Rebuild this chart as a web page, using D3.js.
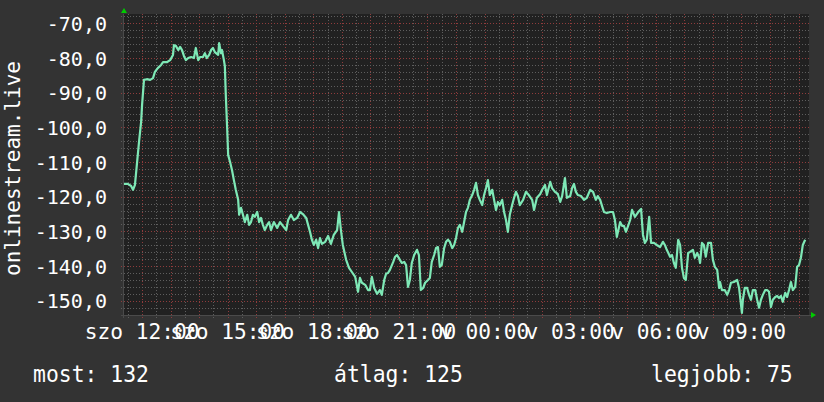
<!DOCTYPE html>
<html>
<head>
<meta charset="utf-8">
<script src="https://cdn.jsdelivr.net/npm/d3@7"></script>
<style>
  html, body { margin: 0; padding: 0; background: #333333; }
  svg { display: block; }
  text { font-family: "DejaVu Sans Mono", monospace; fill: #ffffff; }
</style>
</head>
<body>
<div id="graph"></div>
<script>
const width = 824;
const height = 402;

// graph window: szo 11:22 -> v 11:22
const startTime = new Date(2024, 2, 9, 11, 22);
const endTime = new Date(2024, 2, 10, 11, 22);

// minutes since startTime
const minutes = [
  0, 8, 15, 19, 23, 27, 32, 36, 38, 42, 48, 55, 61, 65, 71, 78, 82, 90, 97, 103,
  105, 109, 114, 118, 122, 126, 130, 135, 141, 147, 151, 156, 160, 166, 170, 174, 179, 183, 187, 191,
  198, 200, 204, 206, 210, 212, 214, 217, 219, 223, 227, 231, 235, 240, 242, 246, 250, 254, 259, 263,
  267, 271, 275, 280, 284, 288, 292, 296, 301, 305, 309, 315, 322, 328, 334, 341, 345, 351, 357, 364,
  370, 376, 383, 387, 391, 395, 399, 404, 408, 412, 416, 423, 429, 435, 441, 448, 452, 456, 460, 467,
  473, 479, 486, 492, 496, 500, 507, 513, 517, 521, 526, 532, 538, 542, 547, 551, 555, 559, 566, 570,
  574, 580, 584, 589, 593, 597, 601, 605, 610, 616, 620, 624, 629, 633, 639, 643, 647, 652, 656, 660,
  664, 668, 673, 677, 681, 685, 690, 694, 698, 702, 706, 711, 715, 719, 723, 727, 732, 736, 740, 744,
  748, 753, 757, 761, 765, 769, 774, 778, 782, 786, 790, 795, 799, 803, 807, 811, 816, 820, 824, 828,
  832, 839, 845, 851, 858, 862, 868, 875, 879, 885, 889, 896, 900, 906, 912, 917, 921, 927, 931, 938,
  942, 946, 950, 954, 961, 967, 973, 980, 986, 992, 996, 1001, 1005, 1009, 1015, 1022, 1028, 1032, 1036, 1043,
  1047, 1051, 1055, 1059, 1064, 1068, 1074, 1081, 1087, 1091, 1095, 1099, 1104, 1108, 1114, 1120, 1127, 1133, 1137, 1141,
  1148, 1152, 1156, 1160, 1165, 1169, 1173, 1177, 1181, 1186, 1190, 1196, 1200, 1205, 1209, 1211, 1215, 1219, 1223, 1228,
  1234, 1238, 1242, 1247, 1251, 1253, 1257, 1263, 1268, 1272, 1276, 1282, 1289, 1293, 1299, 1301, 1305, 1310, 1314, 1318,
  1322, 1327, 1331, 1335, 1339, 1343, 1348, 1352, 1356, 1360, 1364, 1369, 1373, 1377, 1381, 1385, 1390, 1394, 1398, 1402,
  1406, 1411, 1415, 1419, 1423, 1427, 1432
];

const values = [
  -116.3, -116.3, -116.9, -118.0, -116.6, -110.8, -103.6, -98.4, -93.5, -86.3, -86.1, -86.3, -85.8, -84.0, -82.9, -82.0, -81.2, -81.2, -80.6, -79.1,
  -76.3, -76.5, -77.7, -76.8, -77.7, -79.4, -80.6, -80.0, -79.7, -80.0, -77.1, -80.6, -79.7, -79.7, -78.6, -80.0, -79.1, -77.7, -77.1, -78.3,
  -79.1, -75.7, -78.6, -77.7, -80.6, -82.3, -90.7, -100.7, -108.0, -110.0, -112.3, -115.2, -118.0, -120.9, -125.2, -123.2, -125.2, -127.3, -125.2, -128.1,
  -127.3, -125.2, -125.8, -124.4, -127.3, -126.1, -128.1, -129.6, -128.1, -127.3, -129.6, -127.3, -129.0, -127.3, -128.4, -129.6, -126.7, -125.2, -126.7, -126.1,
  -124.4, -125.0, -126.1, -128.1, -130.1, -132.4, -133.9, -132.4, -134.8, -131.9, -133.6, -133.0, -131.3, -133.6, -131.0, -129.6, -124.4, -129.6, -133.9, -138.2,
  -140.5, -141.7, -143.1, -147.4, -143.4, -144.8, -145.4, -146.9, -146.9, -143.1, -146.3, -148.0, -146.9, -148.3, -144.0, -142.2, -142.0, -141.1, -138.8, -137.3,
  -136.8, -138.2, -139.1, -138.8, -139.7, -146.0, -144.0, -139.1, -136.8, -135.3, -136.8, -146.9, -146.3, -144.8, -144.0, -143.4, -138.8, -136.8, -134.8, -134.5,
  -140.2, -139.7, -134.8, -133.0, -132.4, -133.0, -134.8, -133.9, -131.9, -129.0, -128.1, -130.1, -127.3, -124.4, -123.2, -120.9, -119.5, -118.0, -116.0, -119.5,
  -120.9, -122.4, -119.5, -117.5, -115.2, -119.5, -118.0, -120.9, -123.8, -121.5, -122.4, -120.9, -124.4, -126.7, -130.1, -125.2, -122.4, -120.3, -118.6, -119.8,
  -122.4, -120.9, -118.6, -119.5, -120.9, -123.8, -120.3, -119.2, -118.0, -116.6, -119.5, -115.7, -117.5, -118.6, -119.2, -121.5, -119.8, -114.6, -120.3, -119.8,
  -117.5, -116.3, -118.6, -119.5, -119.8, -120.9, -120.3, -118.0, -118.6, -120.9, -119.8, -120.9, -122.7, -124.4, -124.7, -124.4, -124.4, -126.7, -131.6, -127.3,
  -128.4, -128.4, -130.1, -128.7, -126.7, -123.8, -125.8, -124.4, -123.5, -131.0, -133.3, -132.4, -125.8, -133.3, -133.3, -133.9, -134.5, -133.0, -133.9, -135.3,
  -137.3, -136.8, -139.1, -140.5, -132.4, -133.9, -140.5, -143.4, -144.0, -136.2, -135.9, -135.3, -137.6, -136.2, -137.6, -139.1, -133.3, -133.9, -137.3, -133.3,
  -133.3, -138.2, -140.2, -141.1, -146.3, -144.6, -146.9, -146.9, -148.3, -146.9, -144.8, -144.6, -144.0, -146.3, -153.5, -149.7, -146.3, -146.3, -148.3, -149.7,
  -146.9, -146.9, -149.7, -152.0, -149.7, -148.3, -146.9, -146.9, -147.4, -151.8, -149.7, -148.9, -148.6, -149.2, -148.6, -150.3, -147.7, -148.9, -146.9, -144.6,
  -146.9, -146.0, -140.2, -139.7, -137.6, -133.9, -132.4
];

const yDomain = [-154.1, -67.3];
const dayNames = ["v", "h", "k", "sze", "cs", "p", "szo"];
const axisTitle = "onlinestream.live";
const legendItems = [
  { label: "most", value: 132 },
  { label: "átlag", value: 125 },
  { label: "legjobb", value: 75 }
];

const data = minutes.map((m, i) => ({
  time: new Date(startTime.getTime() + m * 60000),
  value: values[i]
}));

const plot = { left: 124, right: 809, top: 14, bottom: 315 };

const x = d3.scaleTime().domain([startTime, endTime]).range([plot.left, plot.right]);
const y = d3.scaleLinear().domain(yDomain).range([plot.bottom, plot.top]);

const locale = d3.formatLocale({ decimal: ",", thousands: " ", grouping: [3], currency: ["", ""], minus: "-" });
const fmtY = locale.format(".1f");
const fmtHM = d3.timeFormat("%H:%M");

const svg = d3.select("#graph").append("svg")
    .attr("width", width)
    .attr("height", height);

svg.append("rect").attr("width", width).attr("height", height).attr("fill", "#333333");

svg.append("rect")
    .attr("x", plot.left).attr("y", plot.top)
    .attr("width", plot.right - plot.left).attr("height", plot.bottom - plot.top)
    .attr("fill", "#212121");

const grid = svg.append("g").attr("shape-rendering", "crispEdges");

// minor / major vertical grid
const minorX = d3.timeMinute.every(30).range(startTime, endTime).filter(d => d.getMinutes() === 30);
const majorX = d3.timeHour.every(1).range(startTime, endTime);

grid.selectAll(".vminor").data(minorX).join("line")
    .attr("x1", d => Math.round(x(d)) + 0.5).attr("x2", d => Math.round(x(d)) + 0.5)
    .attr("y1", plot.top).attr("y2", plot.bottom + 3)
    .attr("stroke", "#5e5e5e").attr("stroke-dasharray", "1,2");

grid.selectAll(".vmajor").data(majorX).join("line")
    .attr("x1", d => Math.round(x(d)) + 0.5).attr("x2", d => Math.round(x(d)) + 0.5)
    .attr("y1", plot.top).attr("y2", plot.bottom + 3)
    .attr("stroke", "#8f3c3c").attr("stroke-dasharray", "1,2");

// horizontal grid
const minorY = d3.range(-154, -66, 2).filter(v => v % 10 !== 0 && v >= yDomain[0] && v <= yDomain[1]);
const majorY = d3.range(-150, -66, 10);

grid.selectAll(".hminor").data(minorY).join("line")
    .attr("x1", plot.left - 3).attr("x2", plot.right)
    .attr("y1", d => Math.round(y(d)) + 0.5).attr("y2", d => Math.round(y(d)) + 0.5)
    .attr("stroke", "#5e5e5e").attr("stroke-dasharray", "1,2");

grid.selectAll(".hmajor").data(majorY).join("line")
    .attr("x1", plot.left - 3).attr("x2", plot.right)
    .attr("y1", d => Math.round(y(d)) + 0.5).attr("y2", d => Math.round(y(d)) + 0.5)
    .attr("stroke", "#8f3c3c").attr("stroke-dasharray", "1,2");

// axes lines
grid.append("line")
    .attr("x1", plot.left - 0.5).attr("x2", plot.left - 0.5)
    .attr("y1", plot.top).attr("y2", plot.bottom + 3)
    .attr("stroke", "#4a4a4a");
grid.append("line")
    .attr("x1", plot.left - 3).attr("x2", plot.right + 2)
    .attr("y1", plot.bottom + 0.5).attr("y2", plot.bottom + 0.5)
    .attr("stroke", "#4a4a4a");

// arrows
svg.append("path")
    .attr("d", `M${plot.left - 3},${plot.top - 1} L${plot.left + 3},${plot.top - 1} L${plot.left},${plot.top - 6} Z`)
    .attr("fill", "#00cc00");
svg.append("path")
    .attr("d", `M${plot.right + 2},${plot.bottom - 3} L${plot.right + 2},${plot.bottom + 3} L${plot.right + 7},${plot.bottom} Z`)
    .attr("fill", "#00cc00");

// data line
const line = d3.line()
    .x(d => x(d.time))
    .y(d => y(d.value));

svg.append("path")
    .datum(data)
    .attr("fill", "none")
    .attr("stroke", "#7ee8b6")
    .attr("stroke-width", 2.2)
    .attr("stroke-linejoin", "round")
    .attr("d", line);

// y tick labels
svg.selectAll(".ylab").data(majorY).join("text")
    .attr("x", 107)
    .attr("y", d => y(d) + 7.5)
    .attr("text-anchor", "end")
    .attr("font-size", 20)
    .text(d => fmtY(d));

// x tick labels (overlapping like the original)
const labelX = d3.timeHour.every(3).range(startTime, endTime);
svg.selectAll(".xlab").data(labelX).join("text")
    .attr("x", d => x(d))
    .attr("y", 339)
    .attr("text-anchor", "middle")
    .attr("font-size", 21.2)
    .text(d => dayNames[d.getDay()] + " " + fmtHM(d));

// vertical title
svg.append("text")
    .attr("transform", `translate(20, ${(plot.top + plot.bottom) / 2 + 4}) rotate(-90)`)
    .attr("text-anchor", "middle")
    .attr("font-size", 21)
    .text(axisTitle);

// legend
const legendX = [33, 334, 651];
svg.selectAll(".legend").data(legendItems).join("text")
    .attr("transform", (d, i) => `translate(${legendX[i]}, 382) scale(1, 1.1)`)
    .attr("font-size", 21.4)
    .text(d => `${d.label}: ${d.value}`);
</script>
</body>
</html>
